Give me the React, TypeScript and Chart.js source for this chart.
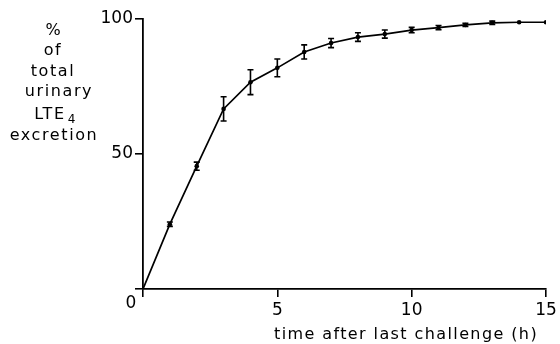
import React, { useEffect, useRef } from "react";
import { Chart, registerables } from "chart.js";

Chart.register(...registerables);

const hours = [0, 1, 2, 3, 4, 5, 6, 7, 8, 9, 10, 11, 12, 13, 14, 15];
const percentExcreted = [0, 24, 45.5, 66.7, 76.6, 81.9, 87.8, 91.1, 93.3, 94.4, 95.9, 96.8, 97.8, 98.6, 98.8, 98.8];
const errorSem = [0, 0.8, 1.5, 4.5, 4.6, 3.3, 2.6, 1.7, 1.6, 1.5, 1.0, 0.8, 0.6, 0.6, 0, 0];
const xTickValues = [0, 5, 10, 15];
const yTickValues = [0, 50, 100];
const yTitleLines = ["%", "of", "total", "urinary", "LTE", "excretion"];
const xTitle = "time after last challenge (h)";

const FONT = "'DejaVu Sans', sans-serif";

const errorBarPlugin = {
  id: "errorBars",
  afterDatasetsDraw(chart: any) {
    const { ctx, scales } = chart;
    const xs = scales.x;
    const ys = scales.y;
    ctx.save();
    ctx.strokeStyle = "#000";
    ctx.lineWidth = 1.6;
    hours.forEach((h, i) => {
      const e = errorSem[i];
      if (!e) return;
      const x = xs.getPixelForValue(h);
      const yTop = ys.getPixelForValue(percentExcreted[i] + e);
      const yBot = ys.getPixelForValue(percentExcreted[i] - e);
      ctx.beginPath();
      ctx.moveTo(x, yTop);
      ctx.lineTo(x, yBot);
      ctx.moveTo(x - 3, yTop);
      ctx.lineTo(x + 3, yTop);
      ctx.moveTo(x - 3, yBot);
      ctx.lineTo(x + 3, yBot);
      ctx.stroke();
    });
    ctx.restore();
  },
};

const textPlugin = {
  id: "titles",
  afterDraw(chart: any) {
    const { ctx, scales } = chart;
    ctx.save();
    ctx.fillStyle = "#000";
    (ctx as any).letterSpacing = "1.6px";
    ctx.font = `16px ${FONT}`;
    ctx.textAlign = "center";
    ctx.textBaseline = "alphabetic";
    const baselines = [35, 55, 76, 96, 119, 140];
    const cx = [54, 53, 53, 59, 50, 54];
    yTitleLines.forEach((line, i) => {
      if (line === "LTE") {
        const w = ctx.measureText(line).width;
        ctx.fillText(line, cx[i], baselines[i]);
        ctx.font = `12px ${FONT}`;
        ctx.textAlign = "left";
        ctx.fillText("4", cx[i] + w / 2 + 2, baselines[i] + 4);
        ctx.font = `16px ${FONT}`;
        ctx.textAlign = "center";
      } else {
        ctx.fillText(line, cx[i], baselines[i]);
      }
    });
    (ctx as any).letterSpacing = "1.4px";
    ctx.fillText(xTitle, 406, 339);
    (ctx as any).letterSpacing = "0px";
    ctx.font = `17px ${FONT}`;
    ctx.textBaseline = "middle";
    ctx.fillText("0", scales.x.getPixelForValue(0) - 12, scales.y.getPixelForValue(0) + 15);
    ctx.restore();
  },
};

export default function App() {
  const ref = useRef<HTMLCanvasElement>(null);
  useEffect(() => {
    document.body.style.margin = "0";
    const canvas = ref.current!;
    const chart = new Chart(canvas, {
      type: "line",
      data: {
        datasets: [
          {
            data: hours.map((h, i) => ({ x: h, y: percentExcreted[i] })),
            borderColor: "#000",
            backgroundColor: "#000",
            borderWidth: 1.7,
            pointRadius: hours.map((h) => (h === 0 ? 0 : 2.3)),
            pointBorderWidth: 0,
            tension: 0,
            fill: false,
          },
        ],
      },
      options: {
        animation: false,
        responsive: false,
        events: [],
        layout: { padding: { top: 19, right: 14, left: 0, bottom: 0 } },
        plugins: { legend: { display: false }, tooltip: { enabled: false } },
        scales: {
          x: {
            type: "linear",
            min: 0,
            max: 15,
            afterFit(s: any) {
              s.height = 55;
            },
            afterBuildTicks(s: any) {
              s.ticks = xTickValues.map((v) => ({ value: v }));
            },
            ticks: {
              color: "#000",
              font: { family: FONT, size: 17 },
              padding: 3,
              maxRotation: 0,
              callback: (v: any) => (v === 0 ? "" : String(v)),
            },
            grid: { drawOnChartArea: false, drawTicks: true, tickLength: 8, color: "#000", lineWidth: 1.6 },
            border: { display: true, color: "#000", width: 1.8 },
          },
          y: {
            type: "linear",
            min: 0,
            max: 100,
            afterFit(s: any) {
              s.width = 143;
            },
            afterBuildTicks(s: any) {
              s.ticks = yTickValues.map((v) => ({ value: v }));
            },
            ticks: {
              color: "#000",
              font: { family: FONT, size: 17 },
              padding: 2,
              callback: (v: any) => (v === 0 ? "" : String(v)),
            },
            grid: { drawOnChartArea: false, drawTicks: true, tickLength: 8, color: "#000", lineWidth: 1.6 },
            border: { display: true, color: "#000", width: 1.8 },
          },
        },
      },
      plugins: [errorBarPlugin, textPlugin],
    } as any);
    return () => chart.destroy();
  }, []);
  return (
    <div style={{ width: 560, height: 344 }}>
      <canvas ref={ref} width={560} height={344} style={{ display: "block" }} />
    </div>
  );
}
